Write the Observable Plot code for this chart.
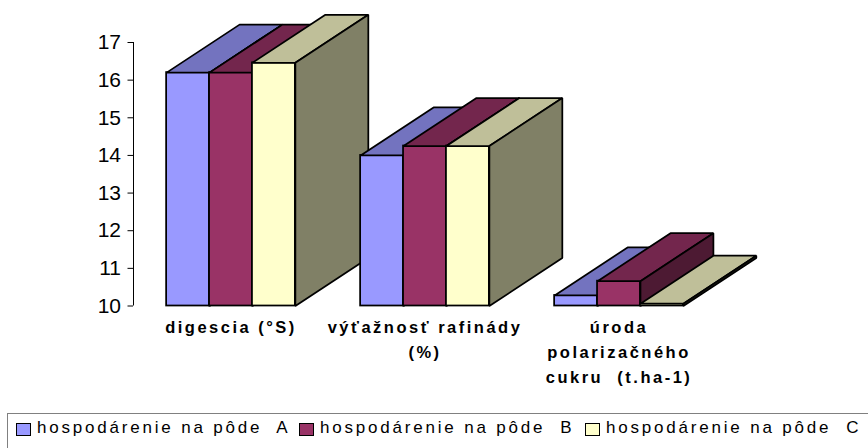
<!DOCTYPE html>
<html>
<head>
<meta charset="utf-8">
<script src="https://cdn.jsdelivr.net/npm/d3@7"></script>
<script src="https://cdn.jsdelivr.net/npm/@observablehq/plot@0.6"></script>
<style>
html,body{margin:0;padding:0;background:#fff;overflow:hidden}
#wrap{position:relative;width:868px;height:448px;overflow:hidden;font-family:"Liberation Sans",Arial,sans-serif}
.cats text{letter-spacing:2.5px}
#legend{position:absolute;left:7px;top:413px;width:900px;height:80px;border:1px solid #808080;box-sizing:border-box}
.item{position:absolute;top:0;white-space:pre;font-size:17px;letter-spacing:2.8px;color:#000;line-height:17px}
.item i{position:absolute;left:0;top:9px;width:13px;height:11px;border:1.5px solid #000;box-sizing:content-box}
.item span{position:absolute;left:21px;top:5px}
</style>
</head>
<body>
<div id="wrap"></div>
<script>
const categories = ["digescia (°S)", "výťažnosť rafinády\n(%)", "úroda\npolarizačného\ncukru  (t.ha-1)"];
const yTicks = [10, 11, 12, 13, 14, 15, 16, 17];
const seriesNames = ["hospodárenie na pôde  A", "hospodárenie na pôde  B", "hospodárenie na pôde  C"];
const valuesA = [16.2, 14.0, 10.28];
const valuesB = [16.2, 14.25, 10.66];
const valuesC = [16.46, 14.25, 10.06];
const frontColors = ["#9999ff", "#993366", "#ffffcc"];
const topColors = ["#7373bf", "#73264d", "#bfbf99"];
const sideColors = ["#4d4d80", "#4d1a33", "#808066"];

const allValues = [valuesA, valuesB, valuesC];
const baseline = 10;
const barWidth = 0.2212;
const depthX = 0.376;
const depthY = 1.275;
const stroke = "#000";
const strokeWidth = 1.75;

const barMarks = categories.flatMap((_, c) => allValues.flatMap((values, s) => {
  const x0 = c + 0.5 + (s - 1.5) * barWidth;
  const x1 = x0 + barWidth;
  const v = values[c];
  const top = [[x0, v], [x1, v], [x1 + depthX, v + depthY], [x0 + depthX, v + depthY]];
  const side = [[x1, baseline], [x1 + depthX, baseline + depthY], [x1 + depthX, v + depthY], [x1, v]];
  const faces = [
    ...top.map(p => ({x: p[0], y: p[1], face: "top", color: topColors[s]})),
    ...side.map(p => ({x: p[0], y: p[1], face: "side", color: sideColors[s]}))
  ];
  return [
    Plot.rect([v], {x1: () => x0, x2: () => x1, y1: () => baseline, y2: d => d, fill: () => frontColors[s], stroke, strokeWidth}),
    Plot.line(faces, {x: "x", y: "y", z: "face", fill: "color", stroke, strokeWidth, curve: "linear-closed", strokeLinejoin: "miter"})
  ];
}));

const chart = Plot.plot({
  width: 868,
  height: 413,
  marginLeft: 133,
  marginRight: 0,
  marginTop: 0,
  marginBottom: 0,
  style: {fontFamily: '"Liberation Sans", Arial, sans-serif', background: "transparent", overflow: "visible"},
  x: {domain: [0, 3], range: [133.5, 715.5], axis: null},
  y: {domain: [10, 17], range: [305.5, 42], axis: null},
  color: {type: "identity"},
  marks: [
    Plot.axisY({ticks: yTicks, tickSize: 5.5, tickPadding: 7, fontSize: 21, color: "#000", label: null, anchor: "left", tickFormat: d => String(d)}),
    Plot.ruleX([0], {y1: 10, y2: 17, stroke: "#000", strokeWidth: 1, dx: -0.5}),
    ...barMarks,
    Plot.text(categories, {
      x: (d, i) => i + 0.5,
      y: 10,
      text: d => d,
      dy: 9,
      lineAnchor: "top",
      lineHeight: 1.515,
      fontSize: 16.5,
      fontWeight: "bold",
      fill: "#000",
      className: "cats"
    })
  ]
});
const wrap = document.getElementById("wrap");
wrap.appendChild(chart);

const legend = document.createElement("div");
legend.id = "legend";
const lefts = [8, 291, 577];
seriesNames.forEach((name, i) => {
  const item = document.createElement("div");
  item.className = "item";
  item.style.left = lefts[i] + "px";
  const sw = document.createElement("i");
  sw.style.background = frontColors[i];
  const t = document.createElement("span");
  t.textContent = name;
  item.append(sw, t);
  legend.appendChild(item);
});
wrap.appendChild(legend);
</script>
</body>
</html>
